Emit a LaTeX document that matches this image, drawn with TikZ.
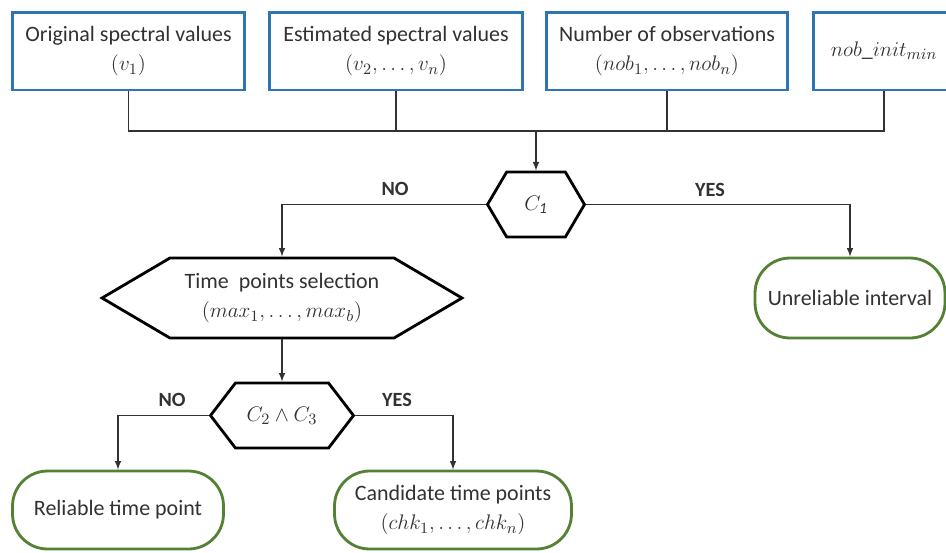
\documentclass[tikz,border=0pt]{standalone}
\usepackage{fontspec}
\setmainfont{Carlito}
\usetikzlibrary{shapes.symbols}
\definecolor{boxblue}{RGB}{46,117,182}
\definecolor{endgreen}{RGB}{84,130,53}
\definecolor{inkgray}{RGB}{50,50,50}
\begin{document}
\begin{tikzpicture}[x=0.02cm,y=-0.02cm,>=latex,
    txt/.style={font=\fontsize{12.5}{17}\selectfont, text=inkgray, align=center},
    inbox/.style={txt, draw=boxblue, line width=1.7pt, fill=white,
        minimum height=1.56cm, inner sep=0pt},
    hexnode/.style={txt, draw=black, line width=1.6pt, fill=white,
        signal, signal to=west and east, inner sep=0pt},
    endnode/.style={txt, draw=endgreen, line width=1.6pt, fill=white,
        rounded corners=0.7cm, minimum height=1.56cm, inner sep=0pt},
    conn/.style={inkgray, line width=0.7pt},
    lbl/.style={font=\fontsize{11.5}{13}\selectfont\bfseries, text=inkgray}]

  \useasboundingbox (0,0) rectangle (946,552);
  \clip (0,0) rectangle (946,552);

  % ---- the four inputs ----
  \node[inbox, minimum width=4.66cm] (orig) at (128.5,51)
      {Original spectral values\\$(v_1)$};
  \node[inbox, minimum width=5.08cm] (est) at (396,51)
      {Estimated spectral values\\$(v_2, \ldots, v_n)$};
  \node[inbox, minimum width=4.84cm] (nobs) at (667,51)
      {Number of observations\\$(nob_1, \ldots, nob_n)$};
  \node[inbox, minimum width=2.84cm] (nobmin) at (884,51)
      {$nob\_init_{min}$};

  % ---- first test ----
  \node[hexnode, minimum width=1.94cm, minimum height=1.3cm,
        signal pointer angle=119] (cone) at (536,204.5) {$C_{\mathit{1}}$};
  \coordinate (bus) at (cone.north |- 0,131);

  \draw[conn] (orig.south) |- (bus) -| (nobmin.south);
  \draw[conn] (est.south) -- (est.south |- bus);
  \draw[conn] (nobs.south) -- (nobs.south |- bus);
  \draw[conn,->] (bus) -- (cone.north);

  % ---- branches of the first test ----
  \node[hexnode, minimum width=7.2cm, minimum height=1.6cm,
        signal pointer angle=61] (sel) at (282,298)
      {Time~~points selection\\$(max_1, \ldots, max_b)$};
  \node[endnode, minimum width=3.8cm, minimum height=1.6cm] (unrel)
      at (850,298) {Unreliable interval};

  \draw[conn,->] (cone.west) -| (sel.north);
  \draw[conn,->] (cone.east) -| (unrel.north);
  \node[lbl] (noone) at (395,189) {NO};
  \node[lbl] (yesone) at (710,190) {YES};

  % ---- second test ----
  \node[hexnode, minimum width=2.86cm, minimum height=1.3cm,
        signal pointer angle=105] (ctwo) at (282,415.5)
      {$C_2 \wedge C_3$};
  \draw[conn,->] (sel.south) -- (ctwo.north);

  \node[endnode, minimum width=4.22cm] (rel) at (118,510)
      {Reliable time point};
  \node[endnode, minimum width=4.74cm] (cand) at (453,510)
      {Candidate time points\\$(chk_1, \ldots, chk_n)$};

  \draw[conn,->] (ctwo.west) -| (rel.north);
  \draw[conn,->] (ctwo.east) -| (cand.north);
  \node[lbl] (notwo) at (172,400) {NO};
  \node[lbl] (yestwo) at (397,400) {YES};

\end{tikzpicture}
\end{document}
